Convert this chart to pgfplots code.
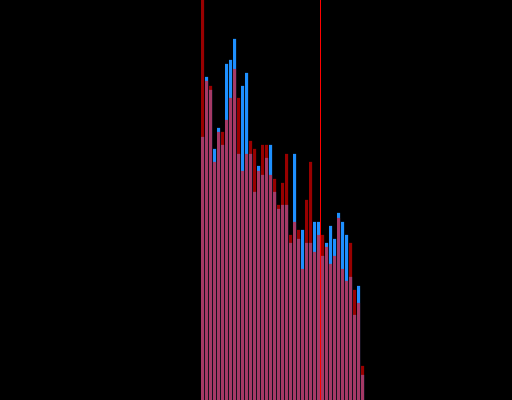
\documentclass[border=0pt]{standalone}
\usepackage{pgfplots}
\pgfplotsset{compat=1.18}
\definecolor{hblue}{HTML}{1E90FF}
\definecolor{hred}{HTML}{FF0000}

% bin index, height (px above the bottom)
\pgfplotstableread{
x y
0 263
1 323
2 310
3 251
4 272
5 255
6 336
7 340
8 361
9 246
10 314
11 327
12 246
13 208
14 234
15 225
16 242
17 255
18 208
19 191
20 195
21 195
22 157
23 246
24 161
25 170
26 157
27 157
28 178
29 178
30 144
31 157
32 174
33 161
34 187
35 178
36 165
37 123
38 85
39 114
40 25
}\blueseries
\pgfplotstableread{
x y
0 450
1 319
2 314
3 238
4 268
5 268
6 280
7 302
8 331
9 302
10 229
11 246
12 259
13 251
14 229
15 255
16 255
17 225
18 221
19 195
20 217
21 246
22 165
23 178
24 170
25 131
26 200
27 238
28 148
29 165
30 165
31 153
32 136
33 144
34 182
35 131
36 119
37 157
38 110
39 97
40 34
}\redseries

\begin{document}
\begin{tikzpicture}
\begin{axis}[
  width=12.8cm,height=10cm,scale only axis,
  xmin=-50.625,xmax=77.375,ymin=0,ymax=400,
  axis lines=none,ticks=none,
  axis background/.style={fill=black}]
\addplot[ybar,bar width=0.75,bar shift=0pt,fill=hblue,draw=none] table {\blueseries};
\addplot[ybar,bar width=0.75,bar shift=0pt,fill=hred,fill opacity=0.6,draw=none] table {\redseries};
\addplot[hred,line width=1pt] coordinates {(29.5,0) (29.5,400)};
\end{axis}
\end{tikzpicture}
\end{document}
